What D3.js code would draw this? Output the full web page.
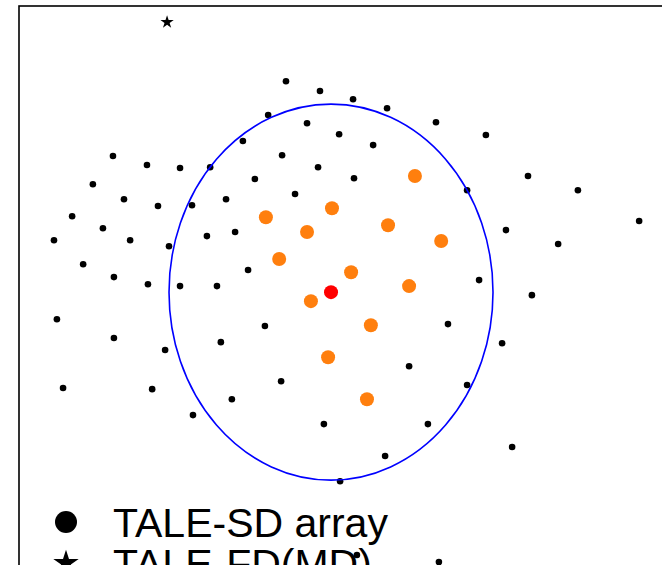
<!DOCTYPE html>
<html>
<head>
    <meta charset="utf-8">
    <title>TALE array layout</title>
    <script src="https://cdn.jsdelivr.net/npm/d3@7"></script>
    <style>
        body { margin: 0; background: #fff; }
        .legend text { font-family: "Liberation Sans", Arial, sans-serif; font-size: 41px; fill: #000; }
    </style>
</head>
<body>
<div id="chart"></div>
<script>
    // detector positions (km-ish, centred on the red station)
    const sdX = [-1.39, -0.34, 0.68, 1.73, -1.94, -0.74, 0.25, 1.30, 3.24, 4.78,
                 -2.72, -1.51, -0.40, 0.71, -2.35, -1.11, -3.24, -3.73, -4.29, -6.73,
                 -5.68, -4.66, -7.35, -6.39, -5.34, -7.99, -7.04, -8.55, -6.20, -5.00,
                 -3.83, -2.96, -7.65, -6.70, -5.65, -4.66, -3.52, -2.56, 6.08, 7.62,
                 4.20, 9.51, 5.40, 7.01, 4.57, 6.20, -8.46, -6.70, -5.12, -3.40,
                 -2.04, -8.27, -5.52, -3.06, -4.26, -1.54, -0.22, 3.61, 5.28, 2.41,
                 4.20, 2.99, 1.67, 0.28, 5.59, 3.33, 0.80];
    const sdY = [5.61, 5.35, 5.13, 4.89, 4.71, 4.49, 4.20, 3.91, 4.52, 4.18,
                 4.02, 3.64, 3.32, 3.03, 3.01, 2.61, 2.47, 3.32, 2.31, 3.62,
                 3.38, 3.30, 2.87, 2.47, 2.29, 2.02, 1.70, 1.38, 1.38, 1.22,
                 1.49, 1.60, 0.74, 0.40, 0.21, 0.16, 0.16, 0.59, 3.09, 2.71,
                 2.71, 1.89, 1.65, 1.28, 0.32, -0.08, -0.72, -1.22, -1.54, -1.33,
                 -0.90, -2.55, -2.58, -2.85, -3.27, -2.37, -3.51, -0.85, -1.36, -1.97,
                 -2.47, -3.51, -4.36, -5.03, -4.12, -7.18, -6.99];

    const hitX = [2.59, 0.03, -2.01, 1.76, -0.74, 3.40, -1.60, 0.62, 2.41, -0.62, 1.23, -0.09, 1.11];
    const hitY = [3.09, 2.23, 1.99, 1.78, 1.60, 1.36, 0.88, 0.53, 0.16, -0.24, -0.88, -1.73, -2.85];

    const coreX = [0];
    const coreY = [0];

    const fdX = [-5.06];
    const fdY = [7.18];

    const radius = 5;
    const xLim = [-9.63, 10.9];
    const yLim = [-8.3, 7.61];
    const legendLabels = ["TALE-SD array", "TALE-FD(MD)"];

    const W = 662, H = 565;
    const marginLeft = 19, marginTop = 6;
    const pxX = 32.4, pxY = 37.6;
    const plotW = (xLim[1] - xLim[0]) * pxX;
    const plotH = (yLim[1] - yLim[0]) * pxY;

    const svg = d3.select("#chart").append("svg")
        .attr("width", W)
        .attr("height", H);

    const x = d3.scaleLinear().domain(xLim).range([marginLeft, marginLeft + plotW]);
    const y = d3.scaleLinear().domain(yLim).range([marginTop + plotH, marginTop]);

    // outer frame
    svg.append("rect")
        .attr("x", x(xLim[0]))
        .attr("y", y(yLim[1]))
        .attr("width", plotW)
        .attr("height", plotH)
        .attr("fill", "none")
        .attr("stroke", "#000")
        .attr("stroke-width", 1.6);

    const sd = d3.zip(sdX, sdY);
    svg.append("g").selectAll("circle")
        .data(sd)
        .join("circle")
        .attr("cx", d => x(d[0]))
        .attr("cy", d => y(d[1]))
        .attr("r", 3.3)
        .attr("fill", "#000");

    svg.append("ellipse")
        .attr("cx", x(0))
        .attr("cy", y(0))
        .attr("rx", x(radius) - x(0))
        .attr("ry", y(0) - y(radius))
        .attr("fill", "none")
        .attr("stroke", "#0000ff")
        .attr("stroke-width", 1.6);

    svg.append("g").selectAll("circle")
        .data(d3.zip(hitX, hitY))
        .join("circle")
        .attr("cx", d => x(d[0]))
        .attr("cy", d => y(d[1]))
        .attr("r", 7)
        .attr("fill", "#ff7f0e");

    svg.append("g").selectAll("circle")
        .data(d3.zip(coreX, coreY))
        .join("circle")
        .attr("cx", d => x(d[0]))
        .attr("cy", d => y(d[1]))
        .attr("r", 7)
        .attr("fill", "#ff0000");

    svg.append("g").selectAll("path")
        .data(d3.zip(fdX, fdY))
        .join("path")
        .attr("transform", d => `translate(${x(d[0])},${y(d[1])})`)
        .attr("d", d3.symbol(d3.symbolStar, 55))
        .attr("fill", "#000");

    // legend
    const legend = svg.append("g").attr("class", "legend");
    const rowY = [522, 563];
    legend.append("circle")
        .attr("cx", 66).attr("cy", rowY[0]).attr("r", 11).attr("fill", "#000");
    legend.append("path")
        .attr("transform", `translate(66,${rowY[1]})`)
        .attr("d", d3.symbol(d3.symbolStar, 200))
        .attr("fill", "#000");
    legend.selectAll("text")
        .data(legendLabels)
        .join("text")
        .attr("x", 113)
        .attr("y", (d, i) => rowY[i] + 15)
        .text(d => d);
</script>
</body>
</html>
